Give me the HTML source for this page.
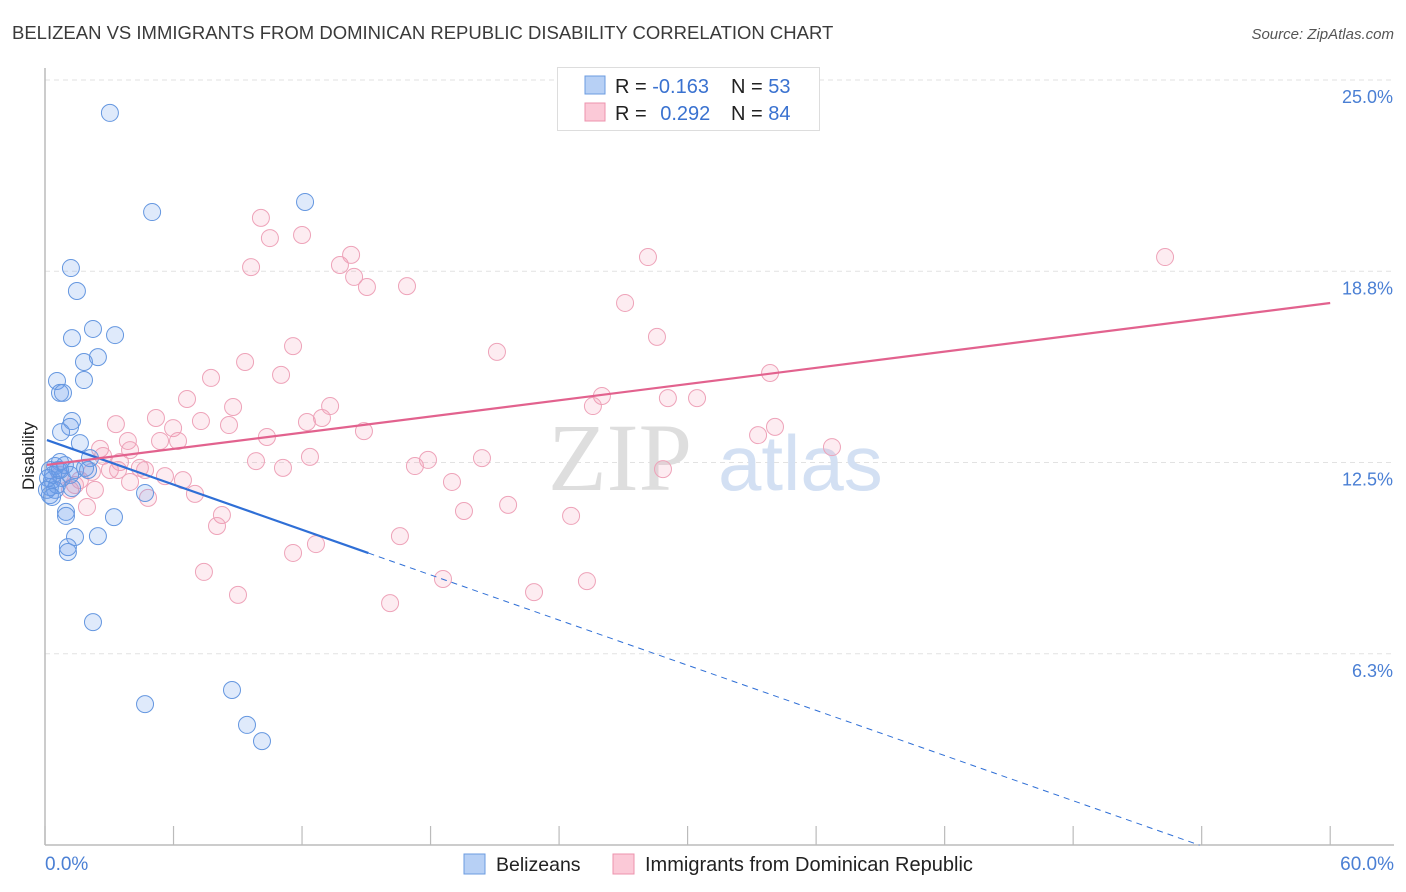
<!DOCTYPE html>
<html><head><meta charset="utf-8"><style>
body{margin:0;background:#fff;font-family:"Liberation Sans",sans-serif;}
svg{display:block}
</style></head><body>
<svg width="1406" height="892">
<text x="12" y="39" font-size="18.5" fill="#3a3a3a">BELIZEAN VS IMMIGRANTS FROM DOMINICAN REPUBLIC DISABILITY CORRELATION CHART</text>
<text x="1394" y="39" font-size="15" font-style="italic" fill="#555" text-anchor="end">Source: ZipAtlas.com</text>
<g id="grid"></g>
<text x="692" y="490" font-size="96" font-family="Liberation Serif,serif" fill="#dedede" text-anchor="end">ZIP</text>
<text x="718" y="490" font-size="78" fill="#d3e0f3">atlas</text>
<line x1="45" y1="68" x2="45" y2="845" stroke="#bbb" stroke-width="1.5"/>
<line x1="45" y1="845" x2="1394" y2="845" stroke="#bbb" stroke-width="1.5"/>
<g id="xticks"></g>
<g id="pts"></g>
<g id="lines"></g>
<text transform="translate(34,456) rotate(-90)" font-size="17" fill="#222" text-anchor="middle">Disability</text>
<text x="45" y="870" font-size="19" fill="#4a7fd4">0.0%</text>
<text x="1394" y="870" font-size="19" fill="#4a7fd4" text-anchor="end">60.0%</text>
<g>
<rect x="557.5" y="67.5" width="262" height="63" fill="#fff" stroke="#ddd"/>
<rect x="585" y="76" width="20" height="18" fill="#b7d0f5" stroke="#6b9be0"/>
<rect x="585" y="103" width="20" height="18" fill="#fbc9d7" stroke="#ec93ad"/>
<text x="615" y="93" font-size="20" fill="#222">R = <tspan fill="#3a72d0">-0.163</tspan></text>
<text x="731" y="93" font-size="20" fill="#222">N = <tspan fill="#3a72d0">53</tspan></text>
<text x="615" y="120" font-size="20" fill="#222">R = <tspan fill="#3a72d0" dx="8">0.292</tspan></text>
<text x="731" y="120" font-size="20" fill="#222">N = <tspan fill="#3a72d0">84</tspan></text>
</g>
<g>
<rect x="464" y="854" width="21" height="20" fill="#b7d0f5" stroke="#6b9be0"/>
<text x="496" y="871" font-size="19.5" fill="#222">Belizeans</text>
<rect x="613" y="854" width="21" height="20" fill="#fbc9d7" stroke="#ec93ad"/>
<text x="645" y="871" font-size="20" fill="#222">Immigrants from Dominican Republic</text>
</g>
</svg>
<script>
const yTicks=[25,18.75,12.5,6.25];
const yTickLabels=["25.0%","18.8%","12.5%","6.3%"];
const xTicks=[0,6,12,18,24,30,36,42,48,54,60];
const blueX=[3.03,5.0,12.14,1.21,1.49,2.24,3.27,1.26,2.47,1.82,1.82,0.56,0.70,0.84,1.26,1.17,0.75,1.63,0.70,2.10,0.47,0.23,0.61,1.40,1.87,0.79,0.33,0.23,0.47,0.23,1.26,4.67,0.98,0.98,3.22,1.40,2.47,1.07,1.07,2.24,4.67,8.73,9.43,10.13,0.37,0.56,0.14,0.93,1.17,0.09,0.33,0.70,2.01];
const blueY=[24.48,21.24,21.57,19.41,18.66,17.42,17.22,17.12,16.50,16.34,15.75,15.72,15.33,15.33,14.41,14.22,14.05,13.69,13.07,13.20,12.94,12.81,12.81,12.81,12.88,12.55,12.48,12.25,12.16,11.99,12.22,12.06,11.44,11.31,11.27,10.62,10.65,10.29,10.13,7.84,5.16,5.62,4.48,3.95,12.65,12.32,12.55,12.97,12.65,12.16,11.93,12.81,12.81];
const pinkX=[35.39,52.29,28.15,10.08,10.50,12.0,9.62,13.77,14.29,14.43,15.03,16.90,27.08,28.57,21.10,11.58,9.34,11.02,7.75,6.63,33.85,26.0,25.58,29.08,30.44,13.31,8.78,3.31,5.18,5.98,7.28,8.59,12.23,12.93,14.89,10.36,5.37,6.21,3.87,33.29,34.08,36.74,2.57,3.97,2.71,3.50,9.85,12.37,11.11,17.27,17.88,20.40,28.85,3.03,4.43,4.67,5.60,6.44,2.19,1.63,3.97,1.17,4.81,7.00,1.96,8.26,8.03,19.56,21.62,24.56,16.57,12.65,11.58,18.58,25.30,7.42,9.01,16.11,22.83,19.0,0.70,1.40,3.41,2.33];
const pinkY=[24.80,19.77,19.77,21.05,20.39,20.49,19.44,19.51,19.84,19.12,18.79,18.82,18.27,17.16,16.67,16.86,16.34,15.92,15.82,15.13,15.98,15.23,14.90,15.16,15.16,14.90,14.87,14.31,14.51,14.18,14.41,14.28,14.38,14.51,14.08,13.89,13.76,13.76,13.76,13.95,14.22,13.56,13.50,13.46,13.27,13.07,13.10,13.24,12.88,12.94,13.14,13.20,12.84,12.81,12.88,12.81,12.61,12.48,12.75,12.48,12.42,12.16,11.90,12.03,11.60,11.34,10.98,11.47,11.67,11.31,10.65,10.39,10.10,9.25,9.18,9.48,8.73,8.46,8.82,12.42,12.65,12.32,12.81,12.16];
const blueFit=[13.81,-0.246]; const blueSolidEnd=15.1;
const pinkFit=[12.97,0.0883];
const NS="http://www.w3.org/2000/svg";
const xS=v=>45+v*21.42;
const yS=v=>862-v*30.6;
function mk(t,a,p){const e=document.createElementNS(NS,t);for(const k in a)e.setAttribute(k,a[k]);p.appendChild(e);return e;}
const grid=document.getElementById('grid');
yTicks.forEach((t,i)=>{
 const l=mk('line',{x1:45,x2:1394,y1:yS(t)-17,y2:yS(t)-17,stroke:'#e2e2e2','stroke-dasharray':'5,4'},grid);
 
 
 const tx=mk('text',{x:1393,y:yS(t)+6,'font-size':18,fill:'#4a7fd4','text-anchor':'end'},grid);
 tx.textContent=yTickLabels[i];
 
 
});
const xt=document.getElementById('xticks');
xTicks.forEach(t=>{
 const l=mk('line',{x1:xS(t),x2:xS(t),y1:826,y2:845,stroke:'#bbb','stroke-width':1.2},xt);
 
 
});
const pts=document.getElementById('pts');
pinkX.forEach((x,i)=>{
 const c=mk('circle',{cx:xS(x),cy:yS(pinkY[i]),r:8.5,fill:'rgba(245,150,180,0.18)',stroke:'#eea3b9','stroke-width':1},pts);
 
 
});
blueX.forEach((x,i)=>{
 const c=mk('circle',{cx:xS(x),cy:yS(blueY[i]),r:8.5,fill:'rgba(110,160,235,0.22)',stroke:'#6597e0','stroke-width':1},pts);
 
 
});
const lg=document.getElementById('lines');
const bf=x=>blueFit[0]+blueFit[1]*x;
const endX=(0.55-blueFit[0])/blueFit[1];
let l1=mk('line',{x1:xS(0.09),y1:yS(bf(0.09)),x2:xS(blueSolidEnd),y2:yS(bf(blueSolidEnd)),stroke:'#2f6fd6','stroke-width':2.2},lg);


let l2=mk('line',{x1:xS(blueSolidEnd),y1:yS(bf(blueSolidEnd)),x2:xS(endX),y2:yS(bf(endX)),stroke:'#2f6fd6','stroke-width':1,'stroke-dasharray':'6,5'},lg);


const pf=x=>pinkFit[0]+pinkFit[1]*x;
let l3=mk('line',{x1:xS(0.09),y1:yS(pf(0.09)),x2:xS(60),y2:yS(pf(60)),stroke:'#e2628e','stroke-width':2.2},lg);


</script>
</body></html>
